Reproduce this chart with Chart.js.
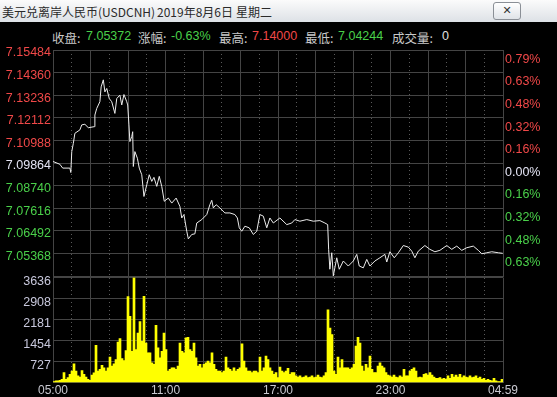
<!DOCTYPE html>
<html lang="zh">
<head>
<meta charset="UTF-8">
<title>美元兑离岸人民币(USDCNH)</title>
<script src="https://cdn.jsdelivr.net/npm/chart.js"></script>
<style>
  body {
    margin: 0;
    width: 557px;
    height: 397px;
    overflow: hidden;
    background: #000;
    position: relative;
    font-family: "Liberation Sans", Arial, "Noto Sans CJK SC", sans-serif;
  }
  .titlebar {
    position: absolute;
    left: 0; top: 0;
    width: 557px; height: 22px;
    background: linear-gradient(#fbfbfb, #dde1e6);
  }
  .titlebar span {
    position: absolute;
    top: 3px;
    font: 12px "Noto Sans CJK SC", sans-serif;
    color: #2a2a2a;
    white-space: pre;
  }
  .close {
    position: absolute;
    left: 493px; top: 2px;
    width: 26px; height: 16px;
    border: 1px solid #8a8f96;
    border-radius: 3px;
    background: linear-gradient(#fff, #dfe3e8);
    font: bold 11px "DejaVu Sans", sans-serif;
    text-align: center;
    line-height: 16px;
    color: #333;
  }
  .info span {
    position: absolute;
    top: 29px;
    font-size: 12.5px;
    white-space: pre;
  }
  .lbl { color: #c8c8c8; font-family: "Noto Sans CJK SC", sans-serif; top: 28px !important; }
  .up { color: #f04848; }
  .down { color: #4ad04a; }
  .flat { color: #e0e0e0; }
  canvas { position: absolute; left: 0; }
  #priceChart { top: 22px; }
  #volChart { top: 268px; }
</style>
</head>
<body>
  <div class="titlebar">
    <span style="left:2px">美元兑离岸人民币(USDCNH)</span>
    <span style="left:157px">2019年8月6日</span>
    <span style="left:236px">星期二</span>
    <div class="close">✕</div>
  </div>

  <div class="info">
    <span class="lbl" style="left:52px">收盘:</span><span class="down" style="left:86px">7.05372</span>
    <span class="lbl" style="left:138px">涨幅:</span><span class="down" style="left:171px">-0.63%</span>
    <span class="lbl" style="left:219px">最高:</span><span class="up" style="left:252px">7.14000</span>
    <span class="lbl" style="left:305px">最低:</span><span class="down" style="left:338px">7.04244</span>
    <span class="lbl" style="left:392px">成交量:</span><span class="flat" style="left:442px">0</span>
  </div>

  <canvas id="priceChart" width="557" height="271"></canvas>
  <canvas id="volChart" width="557" height="131"></canvas>

  <script>
    // minutes since 05:00
    const priceTimes = [0, 22, 31, 54, 57, 60, 65, 70, 86, 92, 102, 113, 132, 134, 140, 150, 154, 161, 166, 172,
      180, 188, 198, 204, 214, 220, 227, 236, 239, 243, 246, 252, 255, 257, 262, 270, 276, 284, 291, 300,
      308, 316, 323, 332, 340, 348, 356, 369, 380, 394, 406, 412, 419, 428, 433, 444, 454, 460, 476, 492,
      502, 508, 513, 522, 534, 550, 566, 582, 590, 596, 604, 614, 628, 641, 652, 662, 673, 684, 694, 705,
      726, 748, 764, 774, 790, 812, 833, 854, 870, 879, 882, 886, 892, 897, 908, 916, 929, 945, 961, 972,
      980, 993, 1004, 1014, 1030, 1046, 1062, 1068, 1078, 1092, 1105, 1121, 1137, 1148, 1158, 1169, 1190, 1206, 1222, 1238,
      1260, 1276, 1292, 1308, 1324, 1345, 1361, 1372, 1388, 1404, 1425, 1439];
    const prices = [7.0994, 7.0980, 7.0961, 7.0961, 7.0939, 7.1043, 7.1084, 7.1134, 7.1151, 7.1176, 7.1179, 7.1162, 7.1167, 7.1225, 7.1258, 7.1291, 7.1365, 7.1400, 7.1340, 7.1357,
      7.1307, 7.1291, 7.1233, 7.1307, 7.1324, 7.1275, 7.1327, 7.1291, 7.1275, 7.1176, 7.1093, 7.1118, 7.1142, 7.0969, 7.1043, 7.1010, 7.0961, 7.0928, 7.0820, 7.0878,
      7.0928, 7.0895, 7.0915, 7.0870, 7.0920, 7.0870, 7.0796, 7.0812, 7.0787, 7.0812, 7.0771, 7.0713, 7.0730, 7.0647, 7.0609, 7.0631, 7.0634, 7.0688, 7.0705, 7.0730,
      7.0779, 7.0801, 7.0763, 7.0779, 7.0763, 7.0738, 7.0738, 7.0730, 7.0713, 7.0664, 7.0647, 7.0672, 7.0664, 7.0631, 7.0647, 7.0730, 7.0722, 7.0664, 7.0713, 7.0688,
      7.0713, 7.0680, 7.0688, 7.0705, 7.0697, 7.0705, 7.0697, 7.0700, 7.0688, 7.0680, 7.0557, 7.0458, 7.0540, 7.0425, 7.0515, 7.0458, 7.0499, 7.0474, 7.0499, 7.0532,
      7.0474, 7.0465, 7.0507, 7.0474, 7.0499, 7.0515, 7.0532, 7.0494, 7.0545, 7.0515, 7.0540, 7.0576, 7.0568, 7.0548, 7.0515, 7.0548, 7.0576, 7.0557, 7.0545, 7.0552,
      7.0576, 7.0557, 7.0573, 7.0552, 7.0565, 7.0573, 7.0552, 7.0535, 7.0540, 7.0545, 7.0540, 7.05372];

    // volume per 6.4-minute bucket
    const volumes = [35, 57, 60, 80, 110, 343, 115, 170, 290, 400,
      650, 400, 230, 195, 420, 285, 195, 115, 80, 260,
      340, 1290, 400, 460, 595, 515, 400, 515, 880, 570,
      650, 800, 1405, 1520, 835, 765, 1110, 2975, 2290, 1085,
      3636, 1145, 1715, 2115, 1430, 2985, 1370, 1030, 1030, 686,
      630, 1980, 1200, 860, 1085, 1715, 1145, 400, 460, 515,
      515, 460, 570, 1370, 1085, 1030, 1545, 1565, 1145, 1085,
      1370, 860, 570, 630, 515, 630, 686, 745, 686, 1030,
      630, 460, 400, 400, 345, 400, 880, 515, 460, 400,
      515, 400, 460, 515, 1340, 745, 515, 400, 400, 345,
      400, 400, 345, 880, 400, 515, 915, 800, 515, 400,
      285, 345, 170, 540, 400, 345, 400, 490, 285, 345,
      345, 230, 195, 230, 170, 195, 230, 170, 195, 230,
      170, 195, 260, 195, 170, 230, 345, 2515, 1885, 1660,
      400, 285, 880, 515, 800, 515, 515, 515, 460, 515,
      630, 1260, 1565, 1370, 570, 400, 630, 515, 915, 460,
      345, 345, 570, 686, 570, 515, 345, 260, 230, 195,
      260, 195, 170, 230, 195, 460, 230, 230, 400, 460,
      515, 400, 170, 195, 170, 285, 310, 260, 345, 260,
      195, 150, 150, 170, 125, 150, 115, 230, 150, 285,
      195, 260, 195, 285, 170, 230, 195, 170, 230, 170,
      195, 230, 150, 195, 115, 150, 80, 115, 80, 57,
      150, 57, 35, 35, 115];
    const volStep = 1440 / volumes.length;

    const prevClose = 7.09864;
    const priceTicks = [7.04244, 7.05368, 7.06492, 7.07616, 7.08740, 7.09864, 7.10988, 7.12112, 7.13236, 7.14360, 7.15484];
    const pctLabels = ['', '0.63%', '0.48%', '0.32%', '0.16%', '0.00%', '0.16%', '0.32%', '0.48%', '0.63%', '0.79%'];
    const volTicks = [0, 727, 1454, 2181, 2908, 3636];
    const timeTicks = [0, 360, 720, 1080, 1440];
    const timeLabels = ['05:00', '11:00', '17:00', '23:00', '04:59'];

    const RED = '#f04848', GREEN = '#4ad04a', WHITE = '#e4e4f4';
    const GRID = '#444444', DOT = '#5a5a5a';
    const twoHours = [0, 120, 240, 360, 480, 600, 720, 840, 960, 1080, 1200, 1320, 1440];
    const hours = [];
    for (let m = 60; m < 1440; m += 120) hours.push(m);

    Chart.defaults.font.family = '"Liberation Sans", Arial, sans-serif';
    Chart.defaults.font.size = 12.5;
    Chart.defaults.animation = false;

    function priceColor(v) {
      if (Math.abs(v - prevClose) < 1e-6) return WHITE;
      return v > prevClose ? RED : GREEN;
    }

    function timeAxes() {
      return {
        x: {
          type: 'linear', min: 0, max: 1440, offset: false,
          afterBuildTicks: s => { s.ticks = twoHours.map(v => ({ value: v })); },
          grid: { color: GRID, drawTicks: false, offset: false },
          border: { display: false },
          ticks: { display: false }
        },
        xh: {
          type: 'linear', position: 'top', min: 0, max: 1440, offset: false,
          afterBuildTicks: s => { s.ticks = hours.map(v => ({ value: v })); },
          grid: { color: DOT, drawTicks: false, offset: false },
          border: { display: false, dash: [1, 3] },
          ticks: { display: false }
        }
      };
    }

    const priceScales = timeAxes();
    priceScales.y = {
      position: 'left', min: priceTicks[0], max: priceTicks[priceTicks.length - 1],
      afterBuildTicks: s => { s.ticks = priceTicks.map(v => ({ value: v })); },
      afterFit: s => { s.width = 53; },
      grid: { color: GRID, drawTicks: false },
      border: { color: GRID },
      ticks: {
        padding: 2, labelOffset: 3,
        color: c => priceColor(c.tick.value),
        callback: (v, i) => i === 0 ? '' : v.toFixed(5)
      }
    };
    priceScales.yp = {
      position: 'right', min: priceTicks[0], max: priceTicks[priceTicks.length - 1],
      afterBuildTicks: s => { s.ticks = priceTicks.map(v => ({ value: v })); },
      afterFit: s => { s.width = 54; },
      grid: { display: false, drawTicks: false },
      border: { color: GRID },
      ticks: {
        padding: 2, labelOffset: 3, align: 'start',
        color: c => priceColor(c.tick.value),
        callback: (v, i) => pctLabels[i]
      }
    };

    new Chart(document.getElementById('priceChart'), {
      type: 'line',
      data: {
        datasets: [{
          data: priceTimes.map((t, i) => ({ x: t, y: prices[i] })),
          borderColor: '#ececec',
          borderWidth: 1,
          pointRadius: 0,
          tension: 0,
          yAxisID: 'y'
        }]
      },
      options: {
        responsive: false,
        layout: { padding: { top: 28, bottom: 9 } },
        plugins: { legend: { display: false }, tooltip: { enabled: false } },
        scales: priceScales
      }
    });

    const volScales = timeAxes();
    volScales.x.ticks = {
      display: true, padding: 1, autoSkip: false, maxRotation: 0, color: '#c8c8d0',
      font: { size: 12 },
      callback: v => {
        const k = timeTicks.indexOf(v);
        return k >= 0 ? timeLabels[k] : '';
      }
    };
    volScales.y = {
      position: 'left', min: 0, max: volTicks[volTicks.length - 1],
      afterBuildTicks: s => { s.ticks = volTicks.map(v => ({ value: v })); },
      afterFit: s => { s.width = 53; },
      grid: { color: GRID, drawTicks: false },
      border: { color: GRID },
      ticks: {
        padding: 2, labelOffset: 4, color: '#c8c8dc',
        callback: v => v === 0 ? '' : String(v)
      }
    };

    new Chart(document.getElementById('volChart'), {
      type: 'bar',
      data: {
        datasets: [{
          data: volumes.map((v, i) => ({ x: i * volStep + volStep / 2, y: v })),
          backgroundColor: '#ffff00',
          borderWidth: 0,
          barPercentage: 1,
          categoryPercentage: 1
        }]
      },
      options: {
        responsive: false,
        layout: { padding: { top: 8, right: 54 } },
        plugins: { legend: { display: false }, tooltip: { enabled: false } },
        scales: volScales
      }
    });
  </script>
</body>
</html>
